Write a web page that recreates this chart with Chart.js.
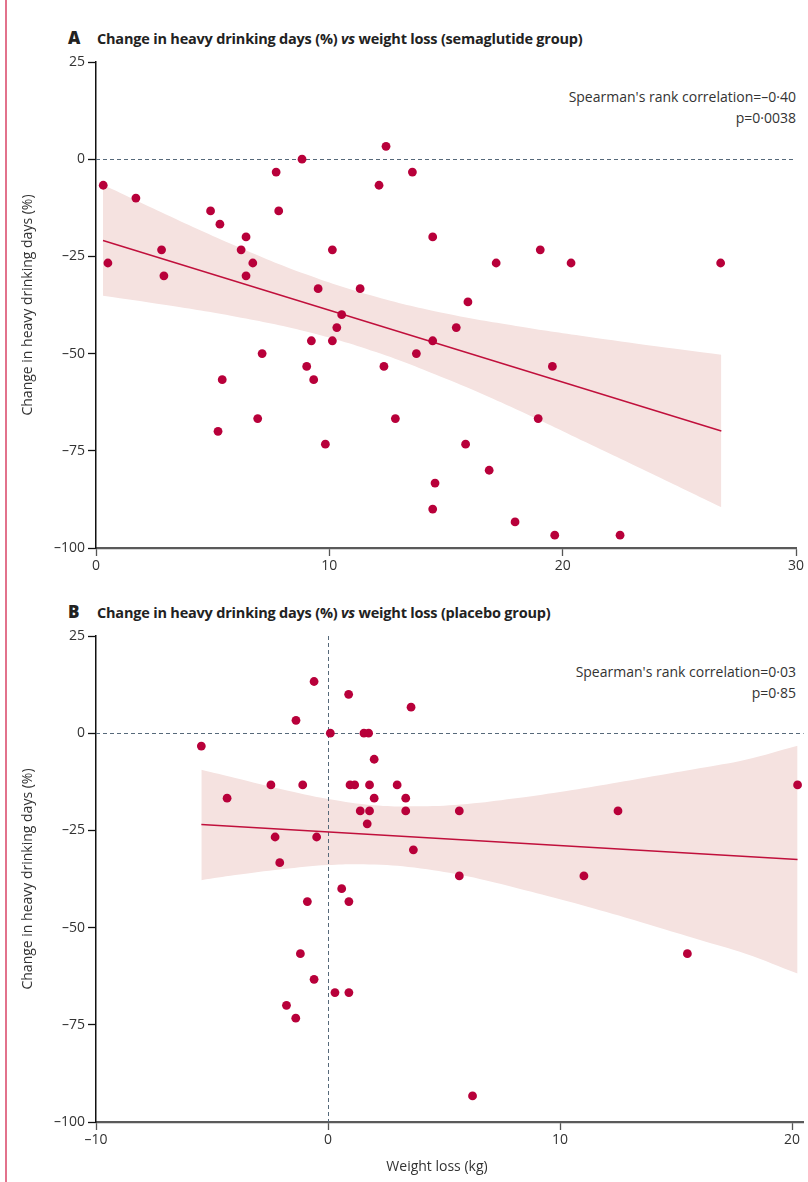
<!DOCTYPE html>
<html>
<head>
<meta charset="utf-8">
<script src="https://cdn.jsdelivr.net/npm/chart.js@4.4.1/dist/chart.umd.min.js"></script>
<style>
  body { margin: 0; background: #fff; }
  #page { position: relative; width: 808px; height: 1182px; overflow: hidden; font-family: "Open Sans", sans-serif; color: #2b2b2b; }
  #rule { position: absolute; left: 5px; top: 0; width: 2px; height: 1182px; background: #e2728c; }
  canvas { position: absolute; left: 0; }
  .ttl { position: absolute; left: 68px; font-weight: 700; font-size: 14.5px; color: #222; white-space: nowrap; letter-spacing: -0.2px; }
  .ttl b { font-size: 17px; display: inline-block; width: 29px; letter-spacing: 0; }
  .stat { position: absolute; right: 12px; text-align: right; font-size: 14px; line-height: 21px; color: #333; }
  #xlab { position: absolute; top: 1156px; left: 337px; width: 200px; text-align: center; font-size: 14px; color: #333; }
</style>
</head>
<body>
<div id="page">
  <div id="rule"></div>
  <div class="ttl" style="top:26px"><b>A</b>Change in heavy drinking days (%) <i>vs</i> weight loss (semaglutide group)</div>
  <div class="stat" style="top:86px">Spearman's rank correlation=–0·40<br>p=0·0038</div>
  <canvas id="chartA" width="808" height="600" style="top:0"></canvas>
  <div class="ttl" style="top:600px"><b>B</b>Change in heavy drinking days (%) <i>vs</i> weight loss (placebo group)</div>
  <div class="stat" style="top:661px">Spearman's rank correlation=0·03<br>p=0·85</div>
  <canvas id="chartB" width="808" height="582" style="top:600px"></canvas>
  <div id="xlab">Weight loss (kg)</div>
</div>
<script>
"use strict";
// panel A - semaglutide group
var semaX = [0.31, 0.51, 1.71, 2.81, 2.91, 4.91, 5.31, 5.23, 5.41, 6.43, 6.22, 6.72, 6.43, 7.12, 6.93,
  7.72, 7.83, 8.83, 9.52, 10.13, 10.53, 10.32, 9.23, 10.13, 9.03, 9.33, 9.83, 11.32, 12.43, 13.56,
  12.13, 14.43, 19.04, 17.15, 20.36, 15.94, 15.44, 14.43, 13.73, 12.34, 19.56, 12.83, 18.95, 15.84, 16.85,
  14.53, 14.43, 17.96, 19.66, 26.77, 22.46];
var semaY = [-6.7, -26.7, -10, -23.3, -30, -13.3, -16.7, -70, -56.7, -20, -23.3, -26.7, -30, -50, -66.7,
  -3.3, -13.3, 0, -33.3, -23.3, -40, -43.3, -46.7, -46.7, -53.3, -56.7, -73.3, -33.3, 3.3, -3.3,
  -6.7, -20, -23.3, -26.7, -26.7, -36.7, -43.3, -46.7, -50, -53.3, -53.3, -66.7, -66.7, -73.3, -80,
  -83.3, -90, -93.3, -96.7, -26.7, -96.7];
var semaFitX = [0.3, 26.8];
var semaFitY = [-20.9, -69.9];
var semaBandX = [0.3, 3, 6, 9, 12, 15, 18, 21, 24, 26.8];
var semaBandHi = [-6.6, -14.2, -22.3, -29.6, -35.4, -39.7, -42.9, -45.6, -48.1, -50.3];
var semaBandLo = [-35.1, -37.5, -40.5, -44.3, -49.6, -56.5, -64.3, -72.8, -81.4, -89.5];
var semaXTicks = [0, 10, 20, 30];

// panel B - placebo group
var placX = [-5.46, -4.35, -2.46, -2.28, -2.08, -1.79, -1.39, -1.38, -1.19, -1.09, -0.89, -0.6, -0.6, -0.49,
  0.1, 0.3, 0.59, 0.89, 0.9, 0.9, 0.95, 1.15, 1.39, 1.55, 1.75, 1.69, 1.79, 1.79, 1.99, 1.99,
  2.98, 3.35, 3.35, 3.58, 3.68, 5.66, 5.66, 6.23, 11.03, 12.5, 15.49, 20.24];
var placY = [-3.3, -16.7, -13.3, -26.7, -33.3, -70, -73.3, 3.3, -56.7, -13.3, -43.3, 13.3, -63.3, -26.7,
  0, -66.7, -40, 10, -43.3, -66.7, -13.3, -13.3, -20, 0, 0, -23.3, -13.3, -20, -6.7, -16.7,
  -13.3, -16.7, -20, 6.7, -30, -20, -36.7, -93.3, -36.7, -20, -56.7, -13.3];
var placFitX = [-5.46, 20.24];
var placFitY = [-23.5, -32.5];
var placBandX = [-5.46, -4, -2, 0, 2, 4, 6, 8, 10, 12, 14, 16, 18, 20.24];
var placBandHi = [-9.4, -11.5, -14.4, -16.9, -18.5, -18.8, -18.2, -16.8, -15.1, -13.2, -11.1, -9.0, -6.8, -3.2];
var placBandLo = [-37.8, -36.5, -35.0, -33.9, -33.8, -34.8, -36.8, -39.6, -42.7, -46.0, -49.5, -53.1, -56.7, -61.8];
var placXTicks = [-10, 0, 10, 20];

var yTicks = [25, 0, -25, -50, -75, -100];

var FONT = '"Open Sans", sans-serif';
var RED = '#b8003a';
var BAND = '#f5e2e0';

function pts(xs, ys) {
  return xs.map((x, i) => ({ x: x, y: ys[i] }));
}

function minusFmt(v) {
  return v < 0 ? '–' + Math.abs(v) : String(v);
}

// dashed reference lines at 0, drawn right after the band
var zeroLines = {
  id: 'zeroLines',
  afterDatasetDraw(chart, args, opts) {
    if (args.index !== 2) return;
    var ctx = chart.ctx, a = chart.chartArea;
    var x = chart.scales.x, y = chart.scales.y;
    ctx.save();
    ctx.strokeStyle = '#56697a';
    ctx.lineWidth = 1;
    ctx.setLineDash([4, 3]);
    var py = Math.round(y.getPixelForValue(0)) + 0.5;
    ctx.beginPath();
    ctx.moveTo(a.left, py);
    ctx.lineTo(a.right, py);
    ctx.stroke();
    if (opts.vertical) {
      var px = Math.round(x.getPixelForValue(0)) + 0.5;
      ctx.beginPath();
      ctx.moveTo(px, a.top);
      ctx.lineTo(px, a.bottom);
      ctx.stroke();
    }
    ctx.restore();
  }
};

function makeChart(id, cfg) {
  return new Chart(document.getElementById(id), {
    type: 'line',
    data: {
      datasets: [{
        label: 'patients',
        data: pts(cfg.xs, cfg.ys),
        showLine: false,
        pointRadius: 4.4,
        pointBackgroundColor: RED,
        pointBorderWidth: 0
      }, {
        label: 'fit',
        data: pts(cfg.fitX, cfg.fitY),
        borderColor: '#c0103c',
        borderWidth: 1.4,
        pointRadius: 0,
        tension: 0
      }, {
        label: 'ci upper',
        data: pts(cfg.bandX, cfg.bandHi),
        borderWidth: 0,
        pointRadius: 0,
        tension: 0.4,
        fill: '+1',
        backgroundColor: BAND
      }, {
        label: 'ci lower',
        data: pts(cfg.bandX, cfg.bandLo),
        borderWidth: 0,
        pointRadius: 0,
        tension: 0.4
      }]
    },
    options: {
      responsive: false,
      animation: false,
      layout: { padding: cfg.pad },
      plugins: {
        legend: { display: false },
        tooltip: { enabled: false },
        zeroLines: { vertical: cfg.vertical }
      },
      scales: {
        x: {
          type: 'linear',
          min: cfg.xMin,
          max: cfg.xMax,
          afterBuildTicks: s => { s.ticks = cfg.xTicks.map(v => ({ value: v })); },
          afterFit: s => { s.height = cfg.xHeight; },
          ticks: { callback: v => minusFmt(v), color: '#333', font: { family: FONT, size: 14 }, padding: 2, maxRotation: 0 },
          grid: { drawOnChartArea: false, drawTicks: true, tickLength: 8, tickColor: '#555', tickWidth: 1.3 },
          border: { color: '#5a5a5a', width: 2.2 }
        },
        y: {
          min: -100,
          max: 25,
          afterBuildTicks: s => { s.ticks = yTicks.map(v => ({ value: v })); },
          afterFit: s => { s.width = 96; },
          ticks: { callback: v => minusFmt(v), color: '#333', font: { family: FONT, size: 14 }, padding: 3 },
          grid: { drawOnChartArea: false, drawTicks: true, tickLength: 8, tickColor: '#111', tickWidth: 1.3 },
          border: { color: '#111', width: 1.5 },
          title: {
            display: true,
            text: 'Change in heavy drinking days (%)',
            color: '#333',
            font: { family: FONT, size: 14 },
            padding: { top: 20, bottom: 0 }
          }
        }
      }
    },
    plugins: [zeroLines]
  });
}

makeChart('chartA', {
  xs: semaX, ys: semaY, fitX: semaFitX, fitY: semaFitY,
  bandX: semaBandX, bandHi: semaBandHi, bandLo: semaBandLo,
  xMin: 0, xMax: 30, xTicks: semaXTicks, xHeight: 52,
  pad: { top: 62, right: 12, left: 0, bottom: 0 }, vertical: false
});

makeChart('chartB', {
  xs: placX, ys: placY, fitX: placFitX, fitY: placFitY,
  bandX: placBandX, bandHi: placBandHi, bandLo: placBandLo,
  xMin: -10, xMax: 20.5, xTicks: placXTicks, xHeight: 60,
  pad: { top: 36, right: 2, left: 0, bottom: 0 }, vertical: true
});
</script>
</body>
</html>
